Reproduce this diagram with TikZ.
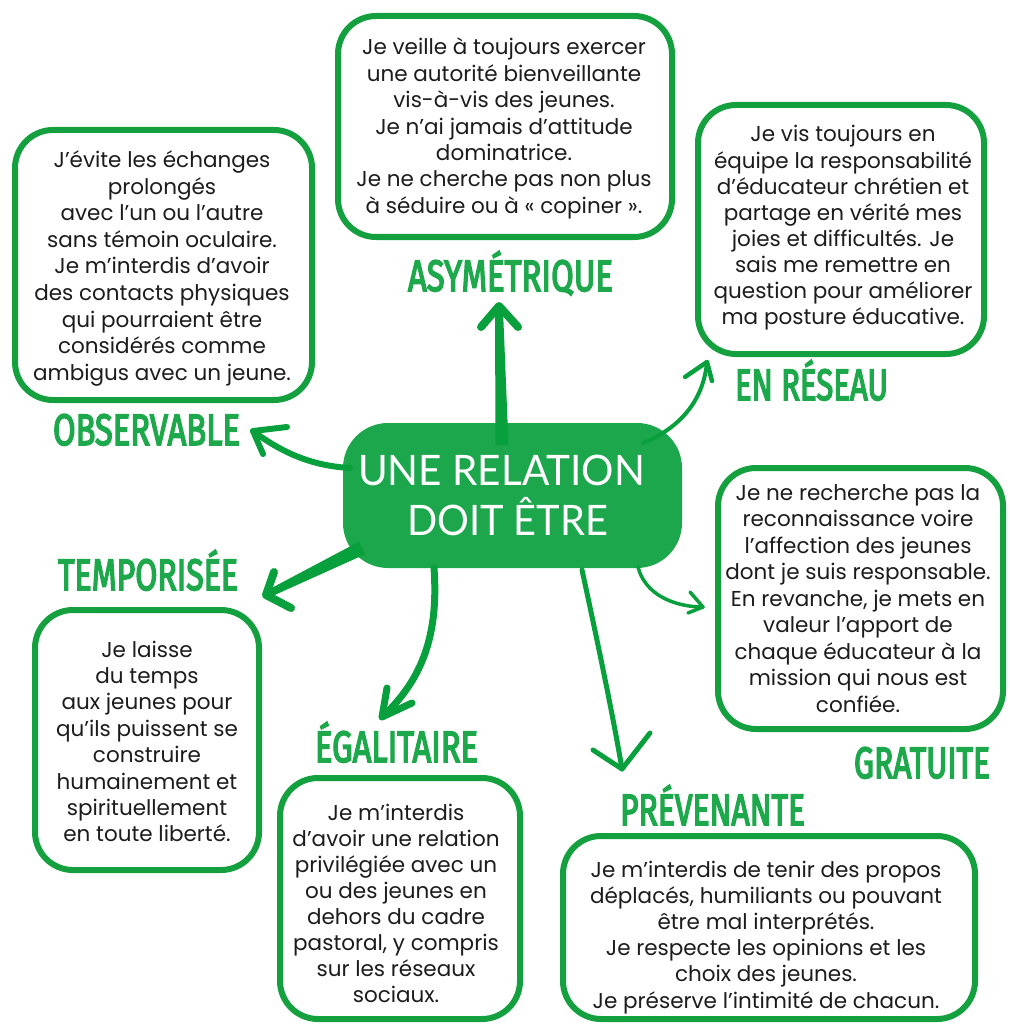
\documentclass[tikz,border=0pt]{standalone}
\usepackage{fontspec}
\usepackage{graphicx}
\setmainfont{Poppins}
\newfontfamily\hfont{Fira Sans}[FakeBold=4]
\newfontfamily\cfont{Lato}
\usetikzlibrary{calc}
\definecolor{bgreen}{RGB}{20,160,62}
\definecolor{agreen}{RGB}{8,160,60}
\definecolor{hgreen}{RGB}{30,168,76}
\definecolor{cgreen}{RGB}{28,167,76}
\definecolor{ink}{RGB}{28,28,28}
\newcommand\tlines[2]{\vtop{\baselineskip=#1\lineskiplimit=-\maxdimen\lineskip=0pt\let\\\cr\halign{\hfil##\hfil\cr#2\crcr}}}
\newcommand\hd[2]{\resizebox{#1}{\height}{#2}}
\tikzset{
  box/.style={draw=bgreen, line width=6pt, rounded corners=38pt, inner sep=0pt, fill=white},
  body/.style={anchor=base, inner sep=0pt, text=ink, font=\fontsize{21.5}{26.4}\selectfont},
  head/.style={anchor=base, inner sep=0pt, text=hgreen, font=\hfont\fontsize{44}{50}\selectfont},
  arr/.style={draw=agreen, line cap=round, line join=round},
}
\begin{document}
\begin{tikzpicture}[x=1pt,y=-1pt]
\useasboundingbox (0,0) rectangle (1009,1024);
% boxes
\node[box, minimum width=334pt, minimum height=221pt] (bA) at (505,126.5) {};
\node[box, minimum width=297pt, minimum height=270pt] (bO) at (163.5,265) {};
\node[box, minimum width=286pt, minimum height=249pt] (bR) at (841,229.5) {};
\node[box, minimum width=285pt, minimum height=261pt] (bG) at (860.5,598.5) {};
\node[box, minimum width=224pt, minimum height=260pt] (bT) at (147,740) {};
\node[box, minimum width=240pt, minimum height=241pt] (bE) at (400,898.5) {};
\node[box, minimum width=412pt, minimum height=183pt] (bP) at (769,927.5) {};
% texts
\node[body] (tA) at (504,55) {\tlines{26.4pt}{Je veille à toujours exercer\\une autorité bienveillante\\vis-à-vis des jeunes.\\Je n’ai jamais d’attitude\\dominatrice.\\Je ne cherche pas non plus\\à séduire ou à «~copiner~».}};
\node[body] (tO) at (162,168) {\tlines{26.5pt}{J’évite les échanges\\prolongés\\avec l’un ou l’autre\\sans témoin oculaire.\\Je m’interdis d’avoir\\des contacts physiques\\qui pourraient être\\considérés comme\\ambigus avec un jeune.}};
\node[body] (tR) at (843,142) {\tlines{26.1pt}{Je vis toujours en\\équipe la responsabilité\\d’éducateur chrétien et\\partage en vérité mes\\joies et difficultés. Je\\sais me remettre en\\question pour améliorer\\ma posture éducative.}};
\node[body] (tG) at (858,500) {\tlines{26.5pt}{Je ne recherche pas la\\reconnaissance voire\\l’affection des jeunes\\dont je suis responsable.\\En revanche, je mets en\\valeur l’apport de\\chaque éducateur à la\\mission qui nous est\\confiée.}};
\node[body] (tT) at (147,657) {\tlines{26.4pt}{Je laisse\\du temps\\aux jeunes pour\\qu’ils puissent se\\construire\\humainement et\\spirituellement\\en toute liberté.}};
\node[body] (tE) at (396,820) {\tlines{26.1pt}{Je m’interdis\\d’avoir une relation\\privilégiée avec un\\ou des jeunes en\\dehors du cadre\\pastoral, y compris\\sur les réseaux\\sociaux.}};
\node[body] (tP) at (766,877) {\tlines{26.2pt}{Je m’interdis de tenir des propos\\déplacés, humiliants ou pouvant\\être mal interprétés.\\Je respecte les opinions et les\\choix des jeunes.\\Je préserve l’intimité de chacun.}};
% headings
\node[head] (hO) at (146.5,445) {\hd{187pt}{OBSERVABLE}};
\node[head] (hA) at (510.5,291) {\hd{205pt}{ASYMÉTRIQUE}};
\node[head] (hR) at (811.5,400) {\hd{153pt}{EN RÉSEAU}};
\node[head] (hG) at (922,778) {\hd{136pt}{GRATUITE}};
\node[head] (hT) at (148,590) {\hd{180pt}{TEMPORISÉE}};
\node[head] (hE) at (396.5,762) {\hd{163pt}{ÉGALITAIRE}};
\node[head] (hP) at (712.5,825) {\hd{185pt}{PRÉVENANTE}};
% core
\node[fill=cgreen, rounded corners=45pt, minimum width=339pt, minimum height=145pt, inner sep=0pt] (core) at (512.5,495.5) {};
\node[anchor=base, inner sep=0pt, text=white, font=\cfont\fontsize{42}{50}\selectfont] (coreTxt) at (501.5,485) {\tlines{50pt}{\hd{287pt}{UNE RELATION}\\\kern12pt\hd{201pt}{DOIT ÊTRE}}};
% arrow coordinates
\coordinate (oS) at (350,468); \coordinate (oT) at (253,431);
\coordinate (oA1) at (287,427); \coordinate (oA2) at (263,454);
\coordinate (aS) at (502,445); \coordinate (aT) at (499,306);
\coordinate (aA1) at (481,327); \coordinate (aA2) at (518,327);
\coordinate (rS) at (643,443); \coordinate (rT) at (707,362);
\coordinate (rA1) at (685,377); \coordinate (rA2) at (712,381);
\coordinate (tS) at (362,548); \coordinate (tT) at (266,595);
\coordinate (tA1) at (274,572); \coordinate (tA2) at (291,608);
\coordinate (eS) at (434,568); \coordinate (eT) at (382,717);
\coordinate (eA1) at (387,688); \coordinate (eA2) at (412,703);
\coordinate (pS) at (582,570); \coordinate (pT) at (622,769);
\coordinate (pA1) at (593,750); \coordinate (pA2) at (650,733);
\coordinate (gS) at (638,567); \coordinate (gT) at (703,607);
\coordinate (gA1) at (690,592); \coordinate (gA2) at (688,613);
% arrows
\draw[arr, line width=6pt] (oS) .. controls (315,466) and (285,455) .. (oT);
\draw[arr, line width=6pt] (oA1) -- (oT) -- (oA2);
\fill[agreen] ($(aS)+(-6.5,0)$) -- ($(aS)+(6.5,0)$) -- ($(aT)+(4,4)$) -- ($(aT)+(-4,4)$) -- cycle;
\draw[arr, line width=8pt] (aA1) -- (aT) -- (aA2);
\draw[arr, line width=4pt] (rS) .. controls (675,430) and (703,405) .. (rT);
\draw[arr, line width=4.5pt] (rA1) -- (rT) -- (rA2);
\fill[agreen] ($(tS)+(3.1,6.3)$) -- ($(tS)+(-3.1,-6.3)$) -- ($(tT)+(-1.6,-3.2)$) -- ($(tT)+(1.6,3.2)$) -- cycle;
\draw[arr, line width=8pt] (tA1) -- (tT) -- (tA2);
\draw[arr, line width=7pt] (eS) .. controls (438,625) and (428,675) .. (eT);
\draw[arr, line width=7pt] (eA1) -- (eT) -- (eA2);
\draw[arr, line width=5pt] (pS) .. controls (595,630) and (612,710) .. (pT);
\draw[arr, line width=5pt] (pA1) -- (pT) -- (pA2);
\draw[arr, line width=3.5pt] (gS) .. controls (645,595) and (675,607) .. (gT);
\draw[arr, line width=3.5pt] (gA1) -- (gT) -- (gA2);
\end{tikzpicture}
\end{document}
